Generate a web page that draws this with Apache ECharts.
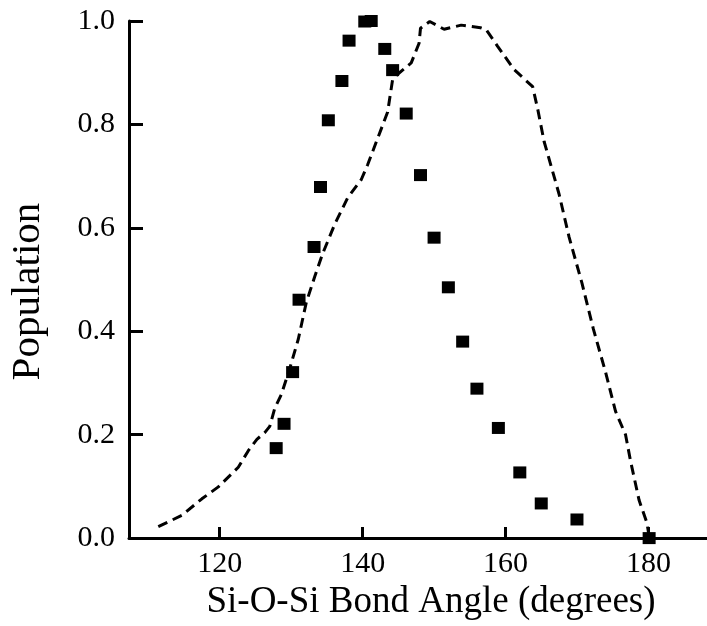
<!DOCTYPE html>
<html>
<head>
<meta charset="UTF-8">
<title>Si-O-Si bond angle</title>
<script src="https://cdn.jsdelivr.net/npm/echarts@6/dist/echarts.min.js"></script>
<style>
  html, body { margin: 0; padding: 0; background: #fff; }
  #chart { width: 707px; height: 626px; }
</style>
</head>
<body>
<div id="chart"></div>
<script>
// measured population (squares)
const squareAngle = [127.9, 129.0, 130.2, 131.1, 133.2, 134.1, 135.2, 137.1, 138.1, 140.3, 141.2,
  143.1, 144.2, 146.1, 148.1, 150.0, 152.0, 154.0, 156.0, 159.0, 162.0, 165.0, 170.0, 180.1];
const squarePop = [0.174, 0.221, 0.321, 0.461, 0.563, 0.679, 0.808, 0.884, 0.962, 0.999, 1.0,
  0.946, 0.905, 0.821, 0.702, 0.581, 0.485, 0.380, 0.289, 0.213, 0.127, 0.067, 0.036, 0.0];

// simulated distribution (dashed curve)
const curveAngle = [111.4, 114.7, 117.5, 119.8, 122.6, 124.0, 125.2, 126.3, 127.0, 127.7, 128.6,
  129.8, 131.0, 132.1, 133.3, 134.4, 136.1, 137.9, 139.8, 140.7, 142.1, 143.5, 144.2, 144.9,
  146.8, 147.9, 148.1, 149.4, 151.4, 153.8, 156.5, 157.3, 158.9, 161.2, 163.8, 164.5, 165.4,
  167.5, 168.9, 170.7, 172.3, 174.0, 175.4, 176.8, 177.5, 178.7, 179.8, 180.1];
const curvePop = [0.022, 0.044, 0.076, 0.099, 0.137, 0.169, 0.191, 0.204, 0.216, 0.251, 0.277,
  0.328, 0.385, 0.455, 0.506, 0.550, 0.607, 0.658, 0.693, 0.722, 0.773, 0.824, 0.887, 0.897,
  0.919, 0.957, 0.986, 0.999, 0.984, 0.992, 0.987, 0.983, 0.951, 0.906, 0.873, 0.830, 0.767,
  0.665, 0.582, 0.493, 0.404, 0.321, 0.245, 0.200, 0.149, 0.073, 0.029, 0.003];

const xTicks = [120, 140, 160, 180];

const font = 'Liberation Serif';
const chart = echarts.init(document.getElementById('chart'));

chart.setOption({
  animation: false,
  grid: { left: 127, right: 0, top: 21, bottom: 81 },
  xAxis: {
    type: 'value',
    min: 107.3,
    max: 188.2,
    name: 'Si-O-Si Bond Angle (degrees)',
    nameLocation: 'middle',
    nameGap: 42,
    nameTextStyle: { fontFamily: font, fontSize: 37, color: '#000', padding: [0, 0, 0, 26] },
    axisLine: { lineStyle: { color: '#000', width: 3 } },
    axisTick: { inside: true, length: 11, lineStyle: { color: '#000', width: 3 }, customValues: xTicks },
    axisLabel: { fontFamily: font, fontSize: 30, color: '#000', margin: 11, customValues: xTicks },
    splitLine: { show: false }
  },
  yAxis: {
    type: 'value',
    min: 0,
    max: 1,
    interval: 0.2,
    name: 'Population',
    nameLocation: 'middle',
    nameGap: 80,
    nameTextStyle: { fontFamily: font, fontSize: 41, color: '#000', padding: [0, 24, 0, 0] },
    axisLine: { show: true, lineStyle: { color: '#000', width: 3 } },
    axisTick: { show: true, inside: true, length: 14, lineStyle: { color: '#000', width: 3 } },
    axisLabel: { fontFamily: font, fontSize: 30, color: '#000', margin: 14,
      formatter: v => v.toFixed(1) },
    splitLine: { show: false }
  },
  series: [
    {
      type: 'line',
      data: curveAngle.map((a, i) => [a, curvePop[i]]),
      symbol: 'none',
      lineStyle: { color: '#000', width: 3, type: [10, 6] },
      z: 2
    },
    {
      type: 'scatter',
      data: squareAngle.map((a, i) => [a, squarePop[i]]),
      symbol: 'rect',
      symbolSize: [13, 12],
      itemStyle: { color: '#000', opacity: 1 },
      z: 3
    }
  ]
});
</script>
</body>
</html>
